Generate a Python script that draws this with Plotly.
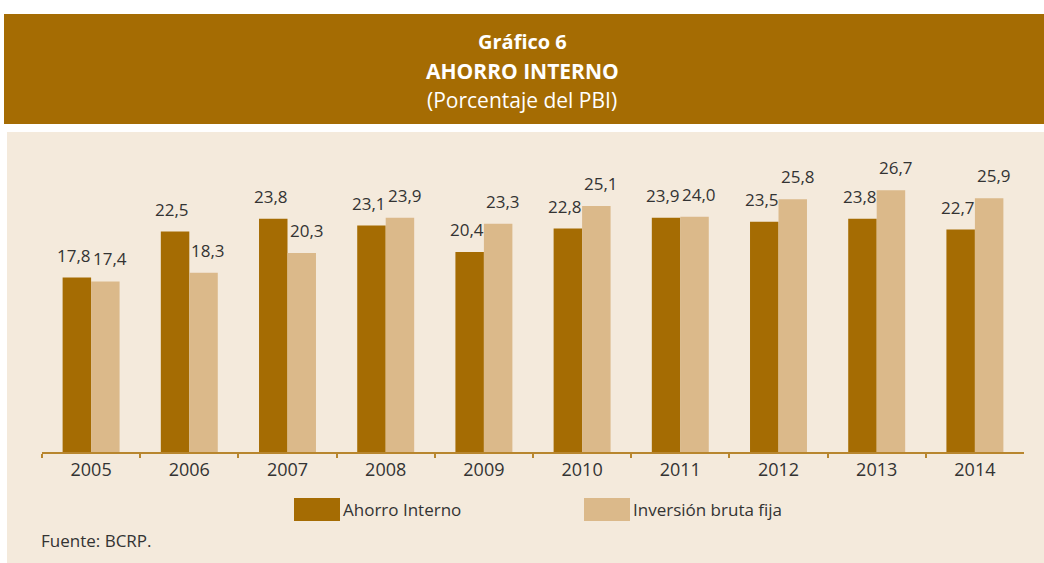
import plotly.graph_objects as go

years = ["2005", "2006", "2007", "2008", "2009", "2010", "2011", "2012", "2013", "2014"]
ahorro = [17.8, 22.5, 23.8, 23.1, 20.4, 22.8, 23.9, 23.5, 23.8, 22.7]
inversion = [17.4, 18.3, 20.3, 23.9, 23.3, 25.1, 24.0, 25.8, 26.7, 25.9]
names = ["Ahorro Interno", "Inversión bruta fija"]
colors = ["#A56C03", "#DBB98A"]

W, H = 1044, 563
FONT = "Open Sans"
TXT = "#333333"

def fmt(v):
    return f"{v:.1f}".replace(".", ",")

fig = go.Figure()
for vals, name, col in zip([ahorro, inversion], names, colors):
    fig.add_trace(go.Bar(x=years, y=vals, name=name, marker_color=col,
                         marker_line_width=0, showlegend=False, hoverinfo="skip"))

annotations = []
for vals, xs in [(ahorro, -17), (inversion, 19)]:
    for i, v in enumerate(vals):
        annotations.append(dict(x=i, y=v, xref="x", yref="y", text=fmt(v),
                                showarrow=False, xshift=xs, yshift=9, yanchor="bottom",
                                font=dict(family=FONT, size=17, color=TXT)))

def ptxt(x, y, text, size, color, xanchor="center"):
    return dict(x=x, y=1 - y / H, xref="paper", yref="paper", text=text, showarrow=False,
                xanchor=xanchor, yanchor="middle", font=dict(family=FONT, size=size, color=color))

annotations += [
    ptxt(0.5, 42, "<b>Gráfico 6</b>", 20, "white"),
    ptxt(0.5, 71, "<b>AHORRO INTERNO</b>", 21, "white"),
    ptxt(0.5, 100, "(Porcentaje del PBI)", 21, "white"),
    ptxt(39 / W, 540, "Fuente: BCRP.", 17, TXT, "left"),
]

shapes = [
    dict(type="rect", xref="paper", yref="paper", x0=4 / W, x1=1.0, y0=1 - 124 / H, y1=1 - 14 / H,
         fillcolor="#A56C03", line_width=0, layer="below"),
    dict(type="rect", xref="paper", yref="paper", x0=7 / W, x1=1.0, y0=0, y1=1 - 132 / H,
         fillcolor="#F4EADC", line_width=0, layer="below"),
]

# Legend (drawn manually)
leg_x = [294, 584]
for lx, name, col in zip(leg_x, names, colors):
    shapes.append(dict(type="rect", xref="paper", yref="paper", x0=lx / W, x1=(lx + 46) / W,
                       y0=1 - 521 / H, y1=1 - 498 / H, fillcolor=col, line_width=0))
    annotations.append(ptxt((lx + 47) / W, 509, name, 17, TXT, "left"))

ytop = (452 - 140) / 9.8

fig.update_layout(
    width=W, height=H,
    margin=dict(l=0, r=0, t=0, b=0, autoexpand=False),
    paper_bgcolor="white", plot_bgcolor="rgba(0,0,0,0)",
    barmode="group", bargap=0.42, bargroupgap=0,
    shapes=shapes, annotations=annotations,
    xaxis=dict(domain=[42 / W, 1024 / W], type="category", range=[-0.5, len(years) - 0.5],
               showgrid=False, tickangle=0,
               showline=True, linecolor="#B8862E", linewidth=2,
               ticks="outside", tickson="boundaries", ticklen=4, tickcolor="#B8862E",
               tickwidth=1.5,
               tickfont=dict(family=FONT, size=18, color=TXT)),
    yaxis=dict(domain=[1 - 452 / H, 1 - 140 / H], range=[0, ytop], visible=False,
               showgrid=False, zeroline=False),
)

fig.write_html("out.html", config={"displayModeBar": False},
               post_script="document.body.style.margin='0';")
